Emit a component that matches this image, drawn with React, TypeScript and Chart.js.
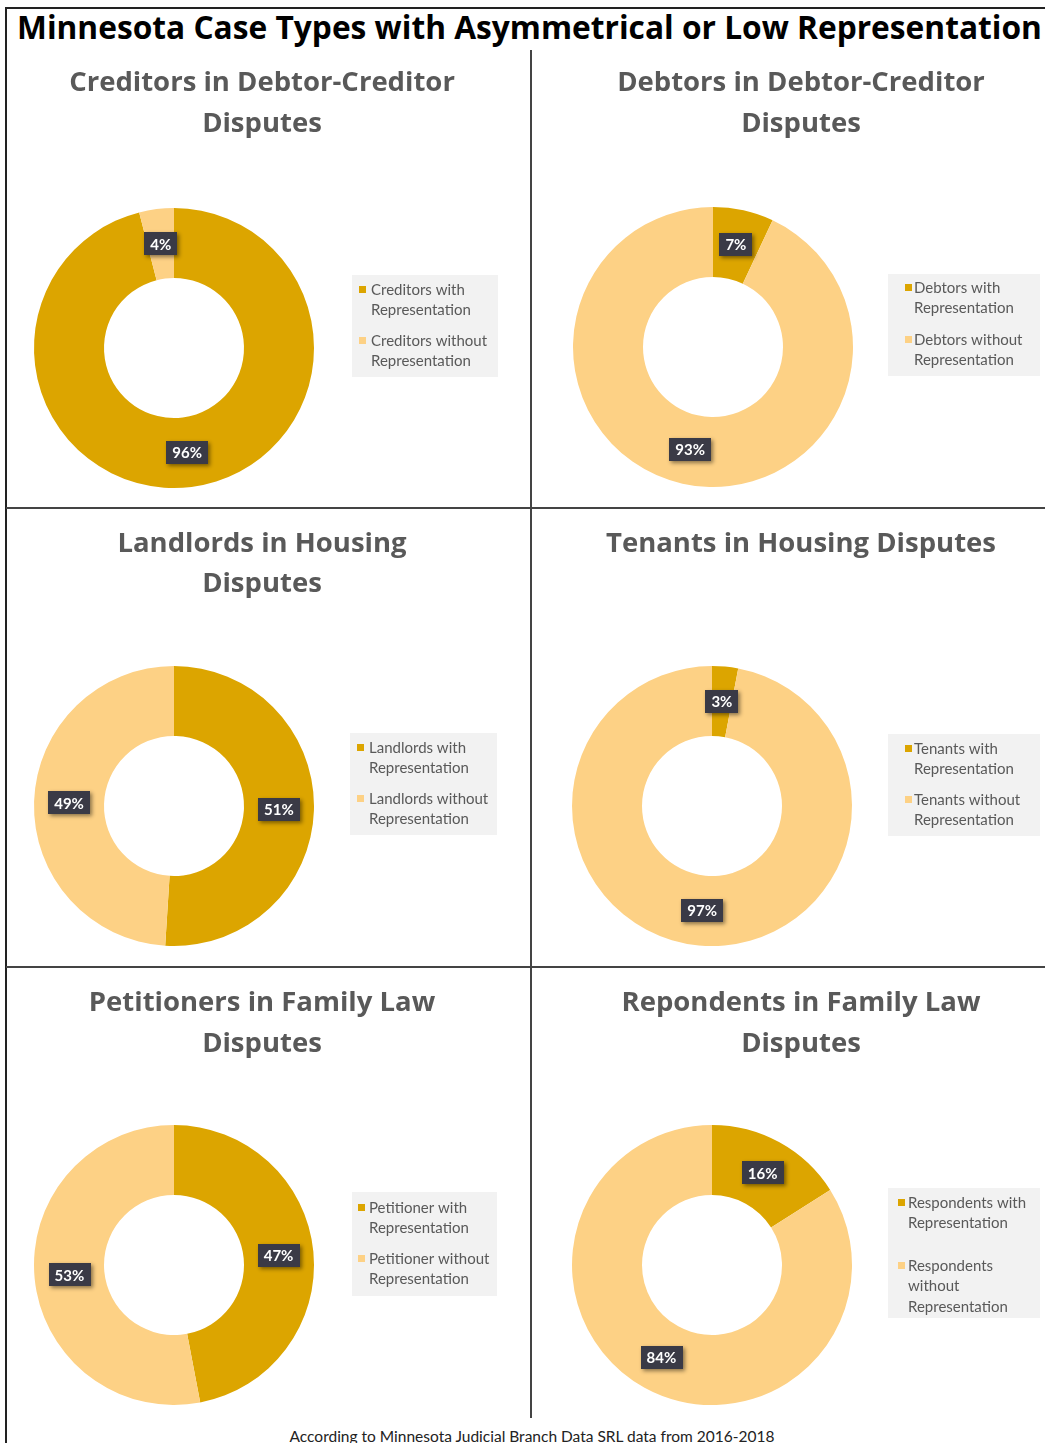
import React, { useEffect, useRef } from 'react';
import { Chart, registerables } from 'chart.js';

Chart.register(...registerables);

// ---------- DATA ----------
const mainTitle = 'Minnesota Case Types with Asymmetrical or Low Representation';
const footerText = 'According to Minnesota Judicial Branch Data SRL data from 2016-2018';

const creditorsTitle = ['Creditors in Debtor-Creditor', 'Disputes'];
const creditorsLabels = [['Creditors with', 'Representation'], ['Creditors without', 'Representation']];
const creditorsValues = [96, 4];

const debtorsTitle = ['Debtors in Debtor-Creditor', 'Disputes'];
const debtorsLabels = [['Debtors with', 'Representation'], ['Debtors without', 'Representation']];
const debtorsValues = [7, 93];

const landlordsTitle = ['Landlords in Housing', 'Disputes'];
const landlordsLabels = [['Landlords with', 'Representation'], ['Landlords without', 'Representation']];
const landlordsValues = [51, 49];

const tenantsTitle = ['Tenants in Housing Disputes'];
const tenantsLabels = [['Tenants with', 'Representation'], ['Tenants without', 'Representation']];
const tenantsValues = [3, 97];

const petitionersTitle = ['Petitioners in Family Law', 'Disputes'];
const petitionersLabels = [['Petitioner with', 'Representation'], ['Petitioner without', 'Representation']];
const petitionersValues = [47, 53];

const respondentsTitle = ['Repondents in Family Law', 'Disputes'];
const respondentsLabels = [['Respondents with', 'Representation'], ['Respondents', 'without', 'Representation']];
const respondentsValues = [16, 84];

// ---------- STYLE ----------
const DARK = '#DCA500';
const LIGHT = '#FDD185';
const TITLE_COLOR = '#595959';
const FONT = 'Lato, "Open Sans", sans-serif';
const TITLE_FONT = '"Open Sans", Lato, sans-serif';

type Layout = {
  left: number; top: number; w: number; h: number;
  pad: { left: number; top: number; right: number; bottom: number };
  titleX: number; titleYs: number[];
  legend: { x: number; y: number; w: number; h: number; markerX: number; textX: number; itemYs: number[] };
};

const panels: { title: string[]; labels: string[][]; values: number[]; layout: Layout }[] = [
  {
    title: creditorsTitle, labels: creditorsLabels, values: creditorsValues,
    layout: {
      left: 7, top: 51, w: 524, h: 456,
      pad: { left: 27, top: 157, right: 217, bottom: 19 },
      titleX: 255, titleYs: [32, 73],
      legend: { x: 345, y: 224, w: 146, h: 102, markerX: 352, textX: 364, itemYs: [239, 290] },
    },
  },
  {
    title: debtorsTitle, labels: debtorsLabels, values: debtorsValues,
    layout: {
      left: 532, top: 51, w: 513, h: 456,
      pad: { left: 41, top: 156, right: 192, bottom: 20 },
      titleX: 269, titleYs: [32, 73],
      legend: { x: 356, y: 223, w: 152, h: 102, markerX: 373, textX: 382, itemYs: [237, 289] },
    },
  },
  {
    title: landlordsTitle, labels: landlordsLabels, values: landlordsValues,
    layout: {
      left: 7, top: 509, w: 524, h: 458,
      pad: { left: 27, top: 157, right: 217, bottom: 21 },
      titleX: 255, titleYs: [35, 75],
      legend: { x: 343, y: 224, w: 147, h: 102, markerX: 350, textX: 362, itemYs: [239, 290] },
    },
  },
  {
    title: tenantsTitle, labels: tenantsLabels, values: tenantsValues,
    layout: {
      left: 532, top: 509, w: 513, h: 458,
      pad: { left: 40, top: 157, right: 193, bottom: 21 },
      titleX: 269, titleYs: [35],
      legend: { x: 356, y: 225, w: 152, h: 102, markerX: 373, textX: 382, itemYs: [240, 291] },
    },
  },
  {
    title: petitionersTitle, labels: petitionersLabels, values: petitionersValues,
    layout: {
      left: 7, top: 968, w: 524, h: 457,
      pad: { left: 27, top: 157, right: 217, bottom: 20 },
      titleX: 255, titleYs: [35, 76],
      legend: { x: 345, y: 224, w: 145, h: 104, markerX: 351, textX: 362, itemYs: [240, 291] },
    },
  },
  {
    title: respondentsTitle, labels: respondentsLabels, values: respondentsValues,
    layout: {
      left: 532, top: 968, w: 513, h: 457,
      pad: { left: 40, top: 157, right: 193, bottom: 20 },
      titleX: 269, titleYs: [35, 76],
      legend: { x: 356, y: 220, w: 152, h: 130, markerX: 366, textX: 376, itemYs: [235, 298] },
    },
  },
];

const decorPlugin = {
  id: 'panelDecor',
  afterDatasetsDraw(chart: any) {
    const ctx = chart.ctx as CanvasRenderingContext2D;
    const meta = chart.getDatasetMeta(0);
    const data = chart.data.datasets[0].data as number[];
    meta.data.forEach((arc: any, i: number) => {
      const p = arc.getCenterPoint();
      const text = `${data[i]}%`;
      ctx.save();
      ctx.font = `bold 15px ${FONT}`;
      const w = ctx.measureText(text).width + 12;
      const h = 23;
      ctx.shadowColor = 'rgba(0,0,0,0.45)';
      ctx.shadowBlur = 4;
      ctx.shadowOffsetX = 2;
      ctx.shadowOffsetY = 2;
      ctx.fillStyle = '#3A3A46';
      ctx.fillRect(Math.round(p.x - w / 2), Math.round(p.y - h / 2), Math.round(w), h);
      ctx.shadowColor = 'transparent';
      ctx.fillStyle = '#FFFFFF';
      ctx.textAlign = 'center';
      ctx.textBaseline = 'middle';
      ctx.fillText(text, p.x, p.y + 1);
      ctx.restore();
    });
  },
  afterDraw(chart: any, _args: any, opts: any) {
    const ctx = chart.ctx as CanvasRenderingContext2D;
    const L: Layout = opts.layout;
    const title: string[] = opts.title;
    ctx.save();
    // Panel title
    ctx.font = `bold 27.5px ${TITLE_FONT}`;
    ctx.fillStyle = TITLE_COLOR;
    ctx.textAlign = 'center';
    ctx.textBaseline = 'middle';
    title.forEach((line, i) => ctx.fillText(line, L.titleX, L.titleYs[i]));
    // Legend
    const lg = L.legend;
    ctx.fillStyle = '#F2F2F2';
    ctx.fillRect(lg.x, lg.y, lg.w, lg.h);
    const labels = chart.data.labels as string[][];
    const colors = chart.data.datasets[0].backgroundColor as string[];
    ctx.font = `15px ${FONT}`;
    ctx.textAlign = 'left';
    labels.forEach((lab, i) => {
      const y0 = lg.itemYs[i];
      ctx.fillStyle = colors[i];
      ctx.fillRect(lg.markerX, y0 - 4, 7, 7);
      ctx.fillStyle = '#595959';
      lab.forEach((line, j) => ctx.fillText(line, lg.textX, y0 + j * 20.5));
    });
    ctx.restore();
  },
};

function Panel({ title, labels, values, layout }: { title: string[]; labels: string[][]; values: number[]; layout: Layout }) {
  const ref = useRef<HTMLCanvasElement | null>(null);
  useEffect(() => {
    if (!ref.current) return;
    const chart = new Chart(ref.current, {
      type: 'doughnut',
      data: {
        labels,
        datasets: [
          {
            data: values,
            backgroundColor: [DARK, LIGHT],
            borderWidth: 0,
            hoverOffset: 0,
          },
        ],
      },
      options: {
        responsive: false,
        animation: false,
        cutout: '50%',
        rotation: 0,
        layout: { padding: layout.pad },
        events: [],
        plugins: {
          legend: { display: false },
          title: { display: false },
          tooltip: { enabled: false },
          panelDecor: { layout, title },
        } as any,
      },
      plugins: [decorPlugin as any],
    });
    return () => chart.destroy();
  }, []);
  return (
    <canvas
      ref={ref}
      width={layout.w}
      height={layout.h}
      style={{ position: 'absolute', left: layout.left, top: layout.top, width: layout.w, height: layout.h }}
    />
  );
}

const line = (s: React.CSSProperties): React.CSSProperties => ({ position: 'absolute', background: '#333', zIndex: 2, ...s });

export default function App() {
  return (
    <div style={{ position: 'absolute', left: 0, top: 0, width: 1045, height: 1443, background: '#fff', overflow: 'hidden', fontFamily: FONT }}>
      <div
        style={{
          position: 'absolute', left: 17, top: 7, whiteSpace: 'nowrap', fontWeight: 700,
          fontSize: 31.7, lineHeight: '40px', color: '#000', fontFamily: TITLE_FONT,
        }}
      >
        {mainTitle}
      </div>
      {panels.map((p, i) => (
        <Panel key={i} title={p.title} labels={p.labels} values={p.values} layout={p.layout} />
      ))}
      <div style={line({ left: 6, top: 7, width: 1039, height: 2, background: '#222' })} />
      <div style={line({ left: 5, top: 7, width: 2, height: 1436, background: '#222' })} />
      <div style={line({ left: 530, top: 50, width: 1.5, height: 1368, background: '#444' })} />
      <div style={line({ left: 6, top: 507, width: 1039, height: 1.5, background: '#444' })} />
      <div style={line({ left: 6, top: 966, width: 1039, height: 1.5, background: '#444' })} />
      <div
        style={{
          position: 'absolute', left: 0, width: 1064, top: 1426, textAlign: 'center', fontSize: 15.5,
          lineHeight: '20px', color: '#222', whiteSpace: 'nowrap',
        }}
      >
        {footerText}
      </div>
    </div>
  );
}
